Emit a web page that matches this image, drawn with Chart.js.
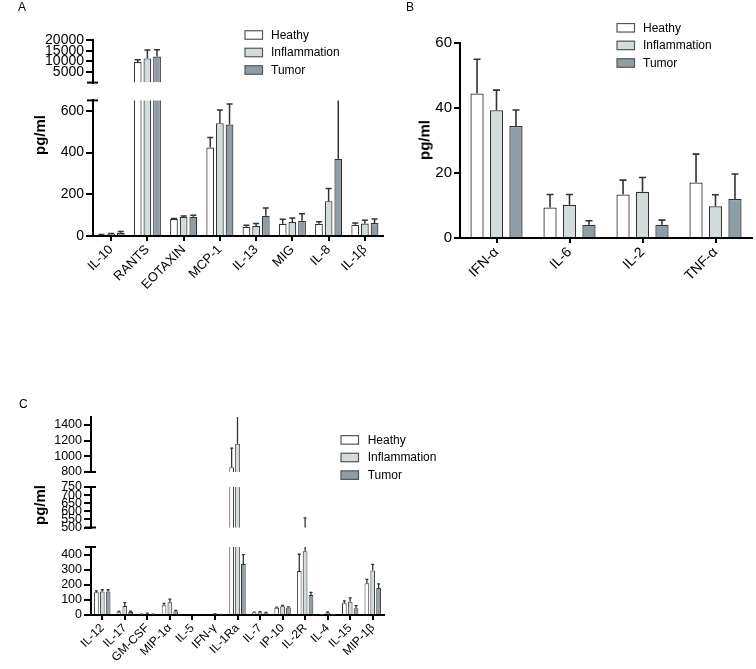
<!DOCTYPE html>
<html>
<head>
<meta charset="utf-8">
<script src="https://cdn.jsdelivr.net/npm/chart.js@4.4.1/dist/chart.umd.min.js"></script>
<style>
  body { margin: 0; background: #fff; }
  #page { position: relative; width: 756px; height: 669px; background: #fff; overflow: hidden; }
  .tag { position: absolute; font: 12px 'Liberation Sans', Arial, sans-serif; line-height: 1; color: #000; }
  .yt { position: absolute; transform: translate(-50%, -50%) rotate(-90deg); font: bold 15px 'Liberation Sans', Arial, sans-serif; white-space: nowrap; color: #000; }
</style>
</head>
<body>
<div id="page">
  <div class="tag" style="left:18px;top:1px">A</div>
  <div class="tag" style="left:406px;top:1px">B</div>
  <div class="tag" style="left:19px;top:398px">C</div>
  <div class="yt" style="left:39px;top:135px">pg/ml</div>
  <div class="yt" style="left:424px;top:140px">pg/ml</div>
  <div class="yt" style="left:39px;top:505px">pg/ml</div>
</div>
<script>
// groups
const groups = ['Heathy', 'Inflammation', 'Tumor'];
const fills = ['#ffffff', '#d3dcdc', '#8f9ea6'];

// panel A
const aLabels = ['IL-10', 'RANTS', 'EOTAXIN', 'MCP-1', 'IL-13', 'MIG', 'IL-8', 'IL-1β'];
const aHeathy = [4, 9660, 81, 424, 44, 59, 59, 54];
const aHeathyErr = [3, 1100, 3, 48, 7, 21, 9, 8];
const aInfl = [9, 11360, 91, 541, 48, 67, 167, 60];
const aInflErr = [3, 3940, 5, 63, 12, 19, 61, 15];
const aTumor = [15, 12200, 92, 534, 97, 73, 370, 62];
const aTumorErr = [6, 3250, 8, 99, 37, 34, 290, 20];
const aTopTicks = [5000, 10000, 15000, 20000];
const aLowTicks = [0, 200, 400, 600];

// panel B
const bLabels = ['IFN-α', 'IL-6', 'IL-2', 'TNF-α'];
const bHeathy = [44.5, 9.4, 13.4, 17.1];
const bHeathyErr = [10.5, 4, 4.4, 8.7];
const bInfl = [39.3, 10.2, 14.2, 9.8];
const bInflErr = [6.2, 3.2, 4.4, 3.5];
const bTumor = [34.5, 4.1, 4.1, 12];
const bTumorErr = [4.9, 1.2, 1.4, 7.7];
const bTicks = [0, 20, 40, 60];

// panel C
const cLabels = ['IL-12', 'IL-17', 'GM-CSF', 'MIP-1α', 'IL-5', 'IFN-γ', 'IL-1Ra', 'IL-7', 'IP-10', 'IL-2R', 'IL-4', 'IL-15', 'MIP-1β'];
const cHeathy = [150, 18, 4, 65, 0, 0, 860, 15, 48, 291, 2, 77, 210];
const cHeathyErr = [10, 6, 2, 12, 0, 0, 245, 4, 4, 111, 1, 16, 26];
const cInfl = [155, 60, 9, 85, 0, 6, 1160, 18, 58, 422, 14, 88, 295];
const cInflErr = [12, 22, 4, 20, 0, 2, 400, 4, 5, 137, 6, 25, 40];
const cTumor = [155, 20, 4, 25, 0, 3, 338, 15, 50, 132, 2, 44, 178];
const cTumorErr = [12, 5, 2, 6, 0, 1, 62, 3, 4, 18, 1, 18, 28];
const cTopTicks = [800, 1000, 1200, 1400];
const cMidTicks = [500, 550, 600, 650, 700, 750];
const cLowTicks = [0, 100, 200, 300, 400];

Chart.defaults.font.family = "'Liberation Sans', Arial, sans-serif";
Chart.defaults.color = '#000';

const page = document.getElementById('page');

// error bars, broken-axis caps, legend
const decor = {
  id: 'decor',
  afterDatasetsDraw(chart, args, opts) {
    const { ctx, chartArea: a } = chart;
    const y = chart.scales.y;
    ctx.save();
    ctx.beginPath();
    ctx.rect(a.left, a.top, a.right - a.left, a.bottom - a.top);
    ctx.clip();
    ctx.strokeStyle = '#333';
    ctx.lineWidth = opts.errW;
    chart.data.datasets.forEach((ds, i) => {
      chart.getDatasetMeta(i).data.forEach((bar, j) => {
        const e = ds.errors[j];
        if (!e || ds.data[j] + e <= opts.floor) return;
        const y0 = y.getPixelForValue(ds.data[j]);
        const y1 = y.getPixelForValue(ds.data[j] + e);
        ctx.beginPath();
        ctx.moveTo(bar.x, y0);
        ctx.lineTo(bar.x, y1);
        ctx.moveTo(bar.x - opts.capW / 2, y1);
        ctx.lineTo(bar.x + opts.capW / 2, y1);
        ctx.stroke();
      });
    });
    ctx.restore();
  },
  afterDraw(chart, args, opts) {
    const { ctx, chartArea: a } = chart;
    ctx.save();
    ctx.strokeStyle = '#000';
    ctx.lineWidth = 2;
    (opts.caps || []).forEach(c => {
      const yy = c === 'top' ? a.top : a.bottom;
      ctx.beginPath();
      ctx.moveTo(a.left - 6, yy);
      ctx.lineTo(a.left + 5, yy);
      ctx.stroke();
    });
    const lg = opts.legend;
    if (lg) {
      ctx.font = "12px 'Liberation Sans', Arial, sans-serif";
      ctx.textBaseline = 'middle';
      ctx.textAlign = 'left';
      groups.forEach((g, i) => {
        const cy = lg.y + i * lg.dy - opts.oy;
        const bx = lg.x - opts.ox;
        ctx.fillStyle = fills[i];
        ctx.fillRect(bx, cy - 4.25, 17.5, 8.5);
        ctx.strokeStyle = '#555';
        ctx.lineWidth = 1.2;
        ctx.strokeRect(bx, cy - 4.25, 17.5, 8.5);
        ctx.fillStyle = '#000';
        ctx.fillText(g, lg.tx - opts.ox, cy + 0.5);
      });
    }
    ctx.restore();
  }
};

function seg(box, o) {
  const yW = 70, padT = o.padT || 10, padR = o.padR || 6;
  const xH = o.showX ? o.xH : 0;
  const padB = o.showX ? 0 : (o.padB || 6);
  const left = box.l - yW, top = box.t - padT;
  const w = Math.round(box.r - box.l + yW + padR);
  const h = Math.round(padT + (box.b - box.t) + xH + padB);
  const cv = document.createElement('canvas');
  cv.width = w; cv.height = h;
  cv.style.cssText = 'position:absolute;left:' + left + 'px;top:' + top + 'px;width:' + w + 'px;height:' + h + 'px';
  page.insertBefore(cv, page.firstChild);

  // in an upper segment that starts at 0, tiny bars and errors stay hidden
  const upper = o.min === 0 && !o.showX;
  const floor = upper ? (o.max - o.min) * 0.05 : -1;

  new Chart(cv, {
    type: 'bar',
    data: {
      labels: o.labels,
      datasets: o.series.map((d, i) => ({
        label: groups[i],
        data: d,
        errors: o.errs[i],
        backgroundColor: c => (c.raw > floor) ? fills[i] : 'rgba(0,0,0,0)',
        borderColor: '#333',
        borderWidth: c => (c.raw > floor) ? o.bw : 0,
        categoryPercentage: o.cp,
        barPercentage: o.bp,
        clip: 0
      }))
    },
    options: {
      responsive: false,
      animation: false,
      events: [],
      layout: { padding: { top: padT, right: padR, bottom: padB, left: 0 } },
      plugins: {
        legend: { display: false },
        tooltip: { enabled: false },
        decor: { errW: o.errW, capW: o.capW, caps: o.caps, legend: o.legend, ox: left, oy: top, floor: floor }
      },
      scales: {
        x: {
          display: !!o.showX,
          offset: true,
          grid: { display: true, drawOnChartArea: false, offset: false, tickLength: 5, lineWidth: 2, color: '#000' },
          border: { display: true, width: 2, color: '#000' },
          ticks: { autoSkip: false, maxRotation: 45, minRotation: 45, padding: 1, font: { size: o.xFont }, color: '#000' },
          afterFit: s => { s.height = xH; }
        },
        y: {
          min: o.min, max: o.max,
          grid: { display: true, drawOnChartArea: false, tickLength: o.tickLen, lineWidth: 2, color: '#000' },
          border: { display: true, width: 2, color: '#000' },
          ticks: { autoSkip: false, padding: o.tickPad, font: { size: o.yFont }, color: '#000', callback: v => String(v) },
          afterBuildTicks: s => { s.ticks = o.ticks.map(v => ({ value: v })); },
          afterFit: s => { s.width = yW; }
        }
      }
    },
    plugins: [decor]
  });
}

// panel A
const aBase = {
  labels: aLabels,
  series: [aHeathy, aInfl, aTumor],
  errs: [aHeathyErr, aInflErr, aTumorErr],
  bw: 1.2, cp: 0.8, bp: 0.8, errW: 1.5, capW: 6,
  tickLen: 7, tickPad: 2, yFont: 14, xFont: 13
};
seg({ l: 93, r: 383, t: 40, b: 87 }, Object.assign({}, aBase, {
  min: 0, max: 20000, ticks: aTopTicks, caps: ['bottom'], padT: 20,
  legend: { x: 245, y: 35, dy: 17.5, tx: 271 }
}));
seg({ l: 93, r: 383, t: 100, b: 236.3 }, Object.assign({}, aBase, {
  min: 0, max: 650, ticks: aLowTicks, caps: ['top'], showX: true, xH: 58
}));

// panel B
seg({ l: 460, r: 752, t: 42.7, b: 238 }, {
  labels: bLabels,
  series: [bHeathy, bInfl, bTumor],
  errs: [bHeathyErr, bInflErr, bTumorErr],
  bw: 1.3, cp: 0.8, bp: 0.68, errW: 1.6, capW: 7,
  tickLen: 6, tickPad: 2, yFont: 15, xFont: 14,
  min: 0, max: 60, ticks: bTicks, showX: true, xH: 50, padT: 25,
  legend: { x: 617, y: 27.5, dy: 17.6, tx: 643 }
});

// panel C
const cBase = {
  labels: cLabels,
  series: [cHeathy, cInfl, cTumor],
  errs: [cHeathyErr, cInflErr, cTumorErr],
  bw: 1, cp: 0.78, bp: 0.8, errW: 1.3, capW: 3,
  tickLen: 7, tickPad: 2, yFont: 12.5, xFont: 12
};
seg({ l: 91, r: 384, t: 417.1, b: 472.3 }, Object.assign({}, cBase, {
  min: 800, max: 1500, ticks: cTopTicks, caps: ['bottom'], padB: 12, padR: 70,
  legend: { x: 341, y: 440, dy: 17.6, tx: 367.7 }
}));
seg({ l: 91, r: 384, t: 487.3, b: 531 }, Object.assign({}, cBase, {
  min: 500, max: 750, ticks: cMidTicks, caps: ['top', 'bottom']
}));
seg({ l: 91, r: 384, t: 547, b: 615 }, Object.assign({}, cBase, {
  min: 0, max: 450, ticks: cLowTicks, caps: ['top'], showX: true, xH: 50
}));
</script>
</body>
</html>
